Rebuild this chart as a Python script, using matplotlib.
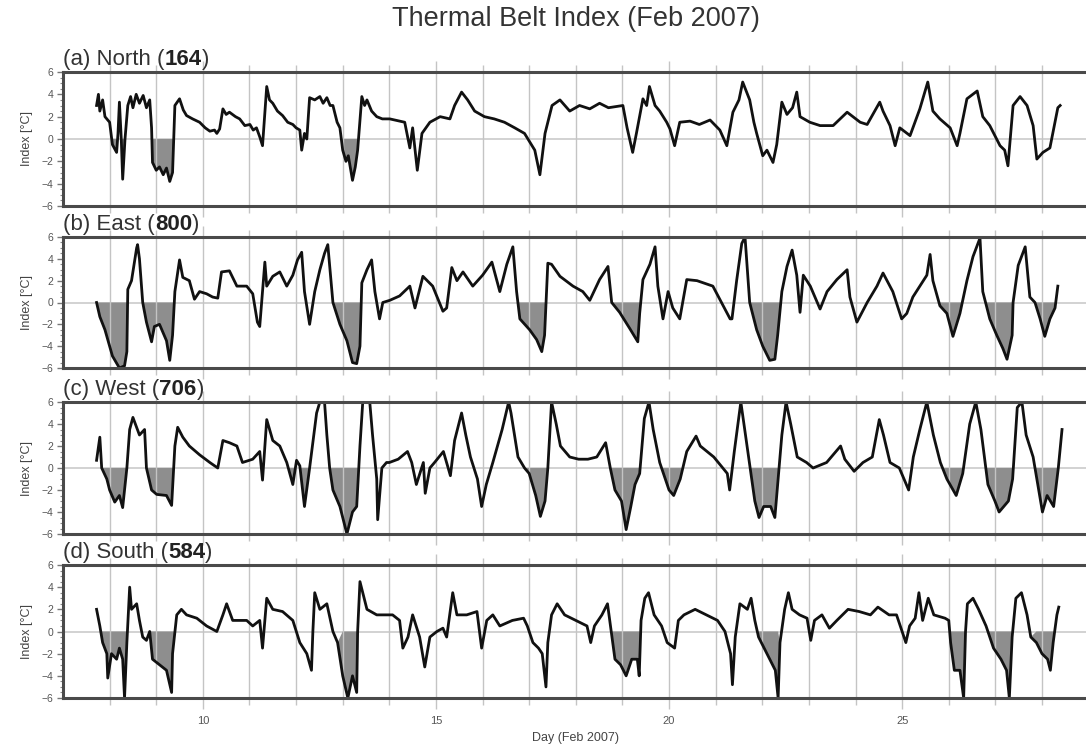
import matplotlib
matplotlib.use('Agg')
import matplotlib.pyplot as plt
import numpy as np

plt.rcParams['font.family'] = ['Liberation Sans', 'DejaVu Sans']

# ---------------- data (day of Feb 2007, index in degC) ----------------
north_day = [7.72, 7.76, 7.79, 7.85, 7.90, 8.00, 8.06, 8.11, 8.15, 8.18, 8.21, 8.25, 8.28, 8.33, 8.39, 8.45,
             8.50, 8.57, 8.64, 8.72, 8.79, 8.86, 8.90, 8.92, 9.00, 9.07, 9.15, 9.22, 9.29, 9.35, 9.40, 9.50,
             9.58, 9.65, 9.78, 9.93, 10.05, 10.15, 10.25, 10.30, 10.36, 10.43, 10.50, 10.57, 10.70, 10.79,
             10.90, 11.01, 11.08, 11.15, 11.22, 11.28, 11.37, 11.43, 11.50, 11.60, 11.71, 11.82, 11.93, 12.00,
             12.08, 12.12, 12.18, 12.23, 12.29, 12.40, 12.51, 12.58, 12.66, 12.73, 12.79, 12.88, 12.94, 13.00,
             13.07, 13.12, 13.21, 13.27, 13.32, 13.41, 13.47, 13.52, 13.62, 13.73, 13.85, 14.01, 14.22, 14.33,
             14.44, 14.50, 14.60, 14.70, 14.87, 15.09, 15.30, 15.40, 15.55, 15.68, 15.83, 16.04, 16.25, 16.47,
             16.69, 16.90, 17.12, 17.23, 17.34, 17.49, 17.66, 17.87, 18.08, 18.30, 18.51, 18.70, 19.01, 19.10,
             19.22, 19.30, 19.44, 19.52, 19.58, 19.70, 19.80, 19.95, 20.02, 20.12, 20.23, 20.45, 20.65, 20.88,
             21.09, 21.24, 21.37, 21.50, 21.58, 21.73, 21.82, 21.88, 22.01, 22.10, 22.23, 22.31, 22.42, 22.53,
             22.65, 22.74, 22.81, 23.02, 23.24, 23.52, 23.82, 24.10, 24.25, 24.52, 24.59, 24.74, 24.85, 24.95,
             25.17, 25.38, 25.55, 25.66, 25.81, 26.03, 26.18, 26.24, 26.39, 26.61, 26.73, 26.88, 27.10, 27.20,
             27.27, 27.38, 27.53, 27.68, 27.81, 27.89, 28.02, 28.17, 28.34, 28.39]
north_val = [3.0, 4.0, 2.5, 3.5, 2.0, 1.5, -0.5, -0.9, -1.2, 0.5, 3.3, 0.0, -3.6, 0.0, 3.0, 3.8,
             2.8, 4.0, 3.2, 3.9, 2.8, 3.5, 1.0, -2.1, -2.8, -2.5, -3.2, -2.6, -3.8, -3.0, 3.0, 3.6,
             2.6, 2.1, 1.8, 1.5, 1.0, 0.7, 0.8, 0.5, 0.9, 2.7, 2.2, 2.4, 2.0, 1.8,
             1.2, 1.3, 0.8, 1.0, 0.2, -0.6, 4.7, 3.5, 3.2, 2.5, 2.1, 1.5, 1.3, 1.0,
             0.8, -1.0, 0.5, 0.0, 3.7, 3.5, 3.8, 3.2, 3.7, 3.0, 3.0, 1.5, 1.0, -1.0,
             -2.0, -1.5, -3.7, -2.5, -1.0, 3.8, 3.0, 3.5, 2.5, 2.0, 1.8, 1.8, 1.6, 1.5,
             -0.8, 1.0, -2.8, 0.5, 1.5, 2.0, 1.8, 3.0, 4.2, 3.5, 2.5, 2.0, 1.8, 1.5,
             1.0, 0.5, -1.0, -3.2, 0.5, 3.0, 3.5, 2.5, 3.0, 2.7, 3.2, 2.8, 3.0, 1.0,
             -1.2, 0.5, 3.6, 3.0, 4.7, 3.0, 2.5, 1.5, 0.9, -0.6, 1.5, 1.6, 1.3, 1.7,
             0.8, -0.6, 2.4, 3.5, 5.1, 3.5, 1.5, 0.5, -1.5, -1.0, -2.1, -0.5, 3.3, 2.2,
             2.8, 4.2, 2.0, 1.5, 1.2, 1.2, 2.4, 1.5, 1.3, 3.3, 2.5, 1.2, -0.6, 1.0,
             0.3, 2.7, 5.1, 2.5, 1.8, 1.0, -0.6, 0.5, 3.6, 4.3, 2.0, 1.2, -0.6, -1.0,
             -2.4, 3.0, 3.8, 3.0, 1.2, -1.8, -1.2, -0.8, 2.8, 3.0]
north_fill = [(8.00, 8.30), (8.88, 9.40), (12.98, 13.35)]

east_day = [7.72, 7.79, 7.90, 8.06, 8.21, 8.32, 8.37, 8.39, 8.47, 8.58, 8.60, 8.64, 8.71, 8.79, 8.90, 8.96,
            9.07, 9.22, 9.29, 9.35, 9.40, 9.50, 9.57, 9.71, 9.82, 9.93, 10.08, 10.21, 10.32, 10.40, 10.57,
            10.73, 10.94, 11.07, 11.17, 11.22, 11.33, 11.37, 11.50, 11.65, 11.80, 11.93, 12.03, 12.12, 12.18,
            12.29, 12.40, 12.51, 12.61, 12.68, 12.79, 12.94, 13.09, 13.21, 13.30, 13.37, 13.41, 13.52, 13.62,
            13.69, 13.79, 13.86, 14.01, 14.22, 14.44, 14.55, 14.72, 14.93, 15.15, 15.23, 15.34, 15.45, 15.58,
            15.79, 16.00, 16.20, 16.37, 16.52, 16.65, 16.73, 16.80, 17.01, 17.16, 17.27, 17.33, 17.40, 17.48,
            17.66, 17.94, 18.15, 18.30, 18.51, 18.69, 18.77, 18.94, 19.16, 19.33, 19.37, 19.44, 19.59, 19.70,
            19.76, 19.87, 19.98, 20.08, 20.23, 20.38, 20.60, 20.94, 21.31, 21.35, 21.45, 21.56, 21.63, 21.73,
            21.88, 22.01, 22.16, 22.27, 22.33, 22.42, 22.53, 22.64, 22.74, 22.81, 22.88, 23.03, 23.24, 23.39,
            23.60, 23.82, 23.88, 24.03, 24.25, 24.46, 24.59, 24.80, 24.99, 25.10, 25.23, 25.53, 25.60, 25.66,
            25.81, 25.96, 26.09, 26.24, 26.39, 26.52, 26.67, 26.73, 26.88, 27.03, 27.16, 27.25, 27.36, 27.38,
            27.49, 27.64, 27.74, 27.85, 27.96, 28.06, 28.17, 28.28, 28.34]
east_val = [0.0, -1.3, -2.5, -4.9, -6.0, -5.8, -4.5, 1.2, 2.0, 5.0, 5.3, 4.0, 0.0, -1.8, -3.6, -2.2,
            -2.0, -3.5, -5.3, -3.0, 1.0, 3.9, 2.3, 2.0, 0.3, 1.0, 0.8, 0.5, 0.4, 2.8, 2.9,
            1.5, 1.5, 0.8, -1.8, -2.2, 3.7, 1.5, 2.4, 2.8, 1.5, 2.5, 3.9, 4.6, 1.0,
            -2.0, 1.0, 3.0, 4.5, 5.3, 0.0, -2.0, -3.5, -5.5, -5.6, -4.0, 1.8, 3.0, 3.9,
            1.0, -1.5, 0.0, 0.2, 0.6, 1.5, -0.5, 2.4, 1.5, -0.8, -0.5, 3.2, 2.0, 2.8,
            1.5, 2.5, 3.7, 1.0, 3.5, 5.1, 1.0, -1.5, -2.5, -3.4, -4.5, -3.0, 3.6, 3.5,
            2.4, 1.5, 1.0, 0.2, 2.1, 3.3, 0.0, -0.9, -2.4, -3.6, -1.0, 2.1, 3.5, 5.1,
            1.5, -1.5, 1.0, -0.5, -1.5, 2.1, 2.0, 1.5, -1.5, -1.5, 2.0, 5.4, 6.0, 0.0,
            -2.5, -4.0, -5.3, -5.2, -3.0, 1.0, 3.3, 4.8, 2.5, -0.9, 2.5, 1.5, -0.6, 1.0,
            2.1, 3.0, 0.5, -1.8, 0.0, 1.5, 2.7, 1.0, -1.5, -1.0, 0.5, 2.5, 4.4, 2.0,
            -0.3, -1.0, -3.1, -1.0, 2.0, 4.2, 5.9, 1.0, -1.5, -3.0, -4.2, -5.2, -3.0, 0.0,
            3.4, 5.1, 0.5, 0.0, -1.5, -3.1, -1.5, -0.5, 1.5]
east_fill = [(7.70, 8.39), (8.70, 9.40), (12.78, 13.41), (16.70, 17.40), (18.75, 19.38),
             (21.70, 22.35), (25.80, 26.25), (26.70, 27.37), (27.80, 28.30)]

west_day = [7.72, 7.79, 7.83, 7.94, 8.00, 8.11, 8.21, 8.28, 8.37, 8.43, 8.50, 8.64, 8.75, 8.79, 8.90, 9.01,
            9.22, 9.33, 9.40, 9.46, 9.57, 9.71, 9.93, 10.15, 10.32, 10.43, 10.57, 10.73, 10.85, 11.07, 11.22,
            11.28, 11.37, 11.50, 11.65, 11.80, 11.93, 12.01, 12.08, 12.18, 12.29, 12.44, 12.51, 12.61, 12.66,
            12.72, 12.79, 12.94, 13.09, 13.21, 13.30, 13.37, 13.43, 13.58, 13.64, 13.73, 13.75, 13.84, 13.94,
            14.00, 14.19, 14.39, 14.48, 14.58, 14.73, 14.77, 14.87, 14.97, 15.16, 15.31, 15.40, 15.55, 15.64,
            15.74, 15.89, 15.98, 16.08, 16.22, 16.42, 16.56, 16.61, 16.76, 16.90, 17.00, 17.14, 17.24, 17.34,
            17.40, 17.48, 17.58, 17.67, 17.87, 18.06, 18.26, 18.45, 18.64, 18.74, 18.84, 18.98, 19.08, 19.18,
            19.27, 19.37, 19.47, 19.57, 19.66, 19.80, 20.00, 20.10, 20.24, 20.38, 20.58, 20.67, 20.96, 21.25,
            21.30, 21.40, 21.54, 21.64, 21.74, 21.84, 21.93, 22.03, 22.18, 22.27, 22.32, 22.42, 22.51, 22.61,
            22.75, 22.95, 23.09, 23.38, 23.58, 23.68, 23.77, 23.97, 24.16, 24.36, 24.51, 24.60, 24.74, 24.94,
            25.14, 25.24, 25.38, 25.53, 25.67, 25.82, 25.96, 26.16, 26.30, 26.45, 26.58, 26.69, 26.84, 26.99,
            27.08, 27.28, 27.37, 27.47, 27.57, 27.66, 27.81, 27.91, 28.01, 28.11, 28.25, 28.35, 28.43]
west_val = [0.7, 2.8, 0.0, -1.0, -2.0, -3.1, -2.5, -3.6, 0.0, 3.5, 4.6, 3.0, 3.5, 0.0, -2.0, -2.4,
            -2.5, -3.4, 2.0, 3.7, 2.8, 2.0, 1.2, 0.5, 0.0, 2.5, 2.3, 2.0, 0.5, 0.8, 1.5,
            -1.1, 4.4, 2.5, 2.0, 0.5, -1.5, 0.7, 0.2, -3.5, 0.0, 5.0, 6.0, 6.0, 3.0,
            0.0, -2.0, -3.5, -6.0, -4.0, -3.5, 2.0, 6.0, 6.0, 3.0, -1.0, -4.7, 0.0, 0.5,
            0.5, 0.8, 1.5, 0.5, -1.5, 0.5, -2.3, 0.0, 0.5, 1.5, -0.7, 2.5, 5.0, 3.0,
            1.0, -1.0, -3.5, -1.5, 0.5, 3.5, 6.0, 5.0, 1.0, 0.0, -0.5, -2.5, -4.4, -3.0,
            0.0, 6.0, 4.0, 2.0, 1.0, 0.8, 0.8, 1.0, 2.3, 0.0, -2.0, -3.0, -5.6, -3.5,
            -1.5, -0.5, 4.5, 6.0, 3.5, 0.5, -2.0, -2.5, -1.0, 1.5, 2.9, 2.0, 1.0, -0.5,
            -2.0, 1.5, 6.0, 3.0, 0.0, -3.0, -4.5, -3.5, -3.5, -4.5, -2.0, 3.0, 6.0, 4.0,
            1.0, 0.5, 0.0, 0.5, 1.5, 2.0, 0.8, -0.3, 0.5, 1.0, 4.4, 3.0, 0.5, 0.0,
            -2.0, 1.0, 3.5, 6.0, 3.0, 0.5, -1.0, -2.5, -0.5, 4.0, 6.0, 3.5, -1.5, -3.0,
            -4.0, -3.0, -1.0, 5.5, 6.0, 3.0, 1.0, -1.5, -4.0, -2.5, -3.5, 0.0, 3.5]
west_fill = [(7.83, 8.37), (8.79, 9.38), (11.85, 12.30), (12.72, 13.35), (16.95, 17.40), (18.74, 19.42),
             (19.80, 20.30), (21.74, 22.35), (25.95, 26.30), (26.80, 27.40), (27.88, 28.35)]

south_day = [7.72, 7.79, 7.85, 7.94, 7.96, 8.04, 8.15, 8.21, 8.28, 8.32, 8.37, 8.43, 8.47, 8.58, 8.64, 8.71,
             8.79, 8.86, 8.92, 9.07, 9.22, 9.33, 9.35, 9.44, 9.54, 9.65, 9.87, 10.08, 10.30, 10.43, 10.51,
             10.64, 10.94, 11.07, 11.22, 11.28, 11.37, 11.50, 11.71, 11.93, 12.08, 12.23, 12.33, 12.36, 12.40,
             12.51, 12.66, 12.79, 12.89, 13.00, 13.11, 13.21, 13.30, 13.32, 13.37, 13.52, 13.73, 14.07, 14.22,
             14.29, 14.40, 14.50, 14.65, 14.76, 14.87, 15.02, 15.15, 15.23, 15.36, 15.45, 15.66, 15.88, 15.98,
             16.09, 16.22, 16.37, 16.64, 16.88, 16.96, 17.08, 17.20, 17.28, 17.36, 17.40, 17.48, 17.60, 17.76,
             18.00, 18.24, 18.32, 18.40, 18.56, 18.68, 18.76, 18.84, 18.96, 19.08, 19.20, 19.32, 19.36, 19.40,
             19.48, 19.56, 19.68, 19.84, 19.96, 20.12, 20.20, 20.32, 20.56, 20.80, 21.04, 21.20, 21.32, 21.36,
             21.42, 21.52, 21.68, 21.76, 21.84, 21.92, 22.04, 22.16, 22.28, 22.34, 22.38, 22.48, 22.56, 22.64,
             22.80, 22.96, 23.04, 23.12, 23.28, 23.44, 23.60, 23.84, 24.08, 24.32, 24.48, 24.72, 24.88, 25.00,
             25.08, 25.16, 25.28, 25.36, 25.44, 25.56, 25.68, 25.92, 26.00, 26.04, 26.12, 26.24, 26.32, 26.36,
             26.40, 26.52, 26.64, 26.80, 26.96, 27.12, 27.24, 27.30, 27.36, 27.44, 27.56, 27.68, 27.76, 27.88,
             28.00, 28.12, 28.18, 28.24, 28.32, 28.36]
south_val = [2.0, 0.5, -1.0, -2.0, -4.2, -2.0, -2.5, -1.5, -2.5, -6.0, -1.0, 4.0, 2.0, 2.5, 1.0, -0.5,
             -0.8, 0.0, -2.5, -3.0, -3.5, -5.5, -2.0, 1.5, 2.0, 1.5, 1.2, 0.5, 0.0, 1.5, 2.5,
             1.0, 1.0, 0.5, 1.0, -1.5, 3.0, 2.0, 1.8, 1.0, -1.0, -2.0, -3.5, 0.0, 3.5,
             2.0, 2.5, 0.0, -1.0, -4.0, -6.0, -4.0, -5.5, 0.0, 4.5, 2.0, 1.5, 1.5, 1.0,
             -1.5, -0.5, 1.5, -0.5, -3.2, -0.5, 0.0, 0.3, -0.5, 3.5, 1.5, 1.5, 1.8, -1.5,
             1.0, 1.5, 0.5, 1.0, 1.2, 0.5, -1.0, -1.5, -2.0, -5.0, -1.0, 1.5, 2.5, 1.5,
             1.0, 0.5, -1.0, 0.5, 1.5, 2.5, 0.0, -2.5, -3.0, -4.0, -2.5, -2.5, -4.0, 1.0,
             3.0, 3.5, 1.5, 0.5, -1.0, -1.5, 1.0, 1.5, 2.0, 1.5, 1.0, 0.0, -2.0, -4.8,
             -0.5, 2.5, 2.0, 3.0, 1.0, -0.5, -1.5, -2.5, -3.5, -6.0, -1.0, 2.0, 3.5, 2.0,
             1.5, 1.2, -0.8, 1.0, 1.5, 0.3, 1.0, 2.0, 1.8, 1.5, 2.2, 1.5, 1.5, 0.0,
             -1.0, 0.5, 1.2, 3.5, 1.0, 3.0, 1.5, 1.2, 1.0, -1.0, -3.5, -3.5, -6.0, 0.0,
             2.5, 3.0, 2.0, 0.5, -1.5, -2.5, -3.5, -6.0, -0.5, 3.0, 3.5, 1.5, -0.5, -1.0,
             -2.0, -2.5, -3.5, -1.0, 1.5, 2.2]
south_fill = [(7.80, 8.40), (8.88, 9.42), (12.95, 13.33), (18.76, 19.40), (21.92, 22.36),
              (26.02, 26.36), (26.92, 27.36), (27.80, 28.30)]

panel_letters = ['a', 'b', 'c', 'd']
panel_names = ['North', 'East', 'West', 'South']
panel_counts = ['164', '800', '706', '584']
panel_days = [north_day, east_day, west_day, south_day]
panel_vals = [north_val, east_val, west_val, south_val]
panel_fills = [north_fill, east_fill, west_fill, south_fill]

x_major = [10, 15, 20, 25]
x_minor = list(range(8, 29))
y_major = [-6, -4, -2, 0, 2, 4, 6]

# ---------------- figure ----------------
fig = plt.figure(figsize=(10.86, 7.49), dpi=100)
W, H = 1086.0, 749.0
left_px, right_px = 63.0, 1088.6
panel_px = [(72, 206), (237, 368), (402, 534), (565, 698)]

spine_c = '#4a4a4a'
grid_c = '#c4c4c4'
tick_lab_c = '#555555'

for i in range(4):
    top, bot = panel_px[i]
    ax = fig.add_axes([left_px / W, 1 - bot / H, (right_px - left_px) / W, (bot - top) / H])
    d = np.array(panel_days[i])
    v = np.array(panel_vals[i])
    ax.set_xlim(7, 29)
    ax.set_ylim(-6, 6)

    # grid & zero line
    ax.set_xticks(x_major)
    ax.set_xticks(x_minor, minor=True)
    ax.grid(which='both', axis='x', color=grid_c, lw=1.0, zorder=0)
    ax.axhline(0, color='#cfcfcf', lw=1.3, zorder=0.5)

    # shaded negative episodes
    mask = np.zeros(len(d), dtype=bool)
    for (a, b) in panel_fills[i]:
        mask |= (d >= a) & (d <= b)
    ax.fill_between(d, v, 0, where=mask & (v <= 0.05), interpolate=True,
                    color='#8e8e8e', lw=0, zorder=1)
    ax.plot(d, v, color='#111111', lw=2.0, zorder=2)

    # ticks
    ax.set_yticks(y_major)
    ax.set_yticks(np.arange(-6, 6.01, 0.5), minor=True)
    ax.tick_params(axis='y', which='major', direction='out', length=4, width=1,
                   color='#777777', labelsize=7.5, labelcolor=tick_lab_c, pad=3)
    ax.tick_params(axis='y', which='minor', direction='out', length=2, width=0.8, color='#888888')
    ax.tick_params(axis='x', which='major', direction='out', length=8, width=1,
                   color=grid_c, top=True, bottom=True, labelsize=8, labelcolor=tick_lab_c, pad=5)
    ax.tick_params(axis='x', which='minor', direction='out', length=5, width=1,
                   color=grid_c, top=True, bottom=True)
    if i < 3:
        ax.tick_params(axis='x', labelbottom=False)

    for s in ['top', 'bottom', 'left']:
        ax.spines[s].set_color(spine_c)
        ax.spines[s].set_linewidth(2.2)
    ax.spines['right'].set_visible(False)

    ax.set_ylabel('Index [°C]', fontsize=9, color='#444444', labelpad=6)

    t1 = ax.annotate(f'({panel_letters[i]}) {panel_names[i]} (', xy=(0, 1), xycoords='axes fraction',
                     xytext=(0, 1.5), textcoords='offset points', ha='left', va='bottom',
                     fontsize=16, color='#333333')
    t2 = ax.annotate(panel_counts[i], xy=(1, 0), xycoords=t1, ha='left', va='bottom',
                     fontsize=16, fontweight='bold', color='#222222')
    ax.annotate(')', xy=(1, 0), xycoords=t2, ha='left', va='bottom', fontsize=16, color='#333333')

    if i == 3:
        ax.set_xlabel('Day (Feb 2007)', fontsize=9, color='#444444', labelpad=4)

fig.text((left_px + right_px) / 2 / W, 1 - 19 / H, 'Thermal Belt Index (Feb 2007)',
         ha='center', va='center', fontsize=19.5, color='#333333')

fig.savefig('out.png', dpi=100)
